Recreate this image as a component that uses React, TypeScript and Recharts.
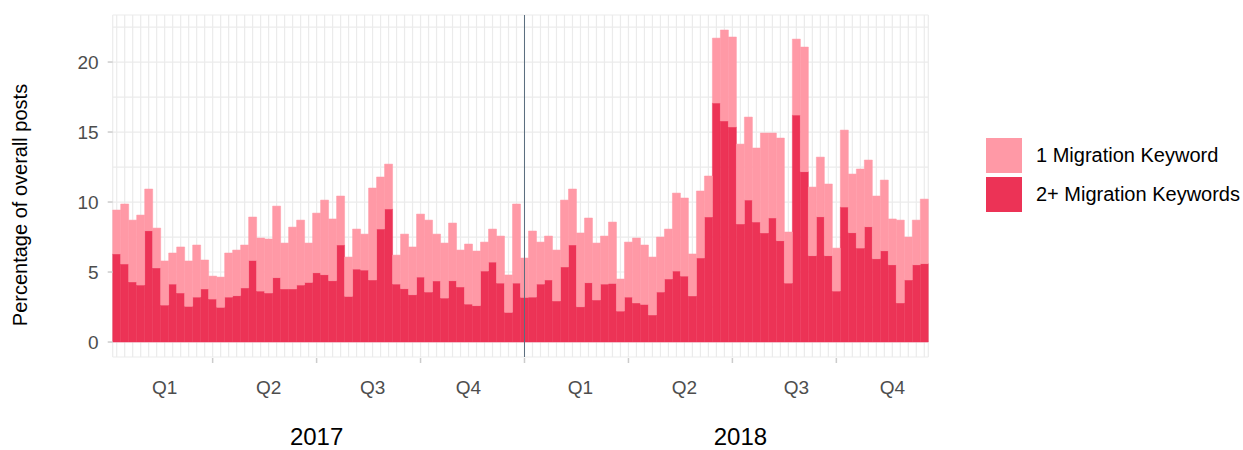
import React from 'react'
import { BarChart, Bar, XAxis, YAxis, CartesianGrid, ReferenceLine } from 'recharts'

// week start dates (one bar per week)
const weekStarts = [
  '2017-01-05', '2017-01-12', '2017-01-19', '2017-01-26', '2017-02-02', '2017-02-09', '2017-02-16', '2017-02-23',
  '2017-03-02', '2017-03-09', '2017-03-16', '2017-03-23', '2017-03-30', '2017-04-06', '2017-04-13', '2017-04-20',
  '2017-04-27', '2017-05-04', '2017-05-11', '2017-05-18', '2017-05-25', '2017-06-01', '2017-06-08', '2017-06-15',
  '2017-06-22', '2017-06-29', '2017-07-06', '2017-07-13', '2017-07-20', '2017-07-27', '2017-08-03', '2017-08-10',
  '2017-08-17', '2017-08-24', '2017-08-31', '2017-09-07', '2017-09-14', '2017-09-21', '2017-09-28', '2017-10-05',
  '2017-10-12', '2017-10-19', '2017-10-26', '2017-11-02', '2017-11-09', '2017-11-16', '2017-11-23', '2017-11-30',
  '2017-12-07', '2017-12-14', '2017-12-21', '2017-12-28',
  '2018-01-04', '2018-01-11', '2018-01-18', '2018-01-25', '2018-02-01', '2018-02-08', '2018-02-15', '2018-02-22',
  '2018-03-01', '2018-03-08', '2018-03-15', '2018-03-22', '2018-03-29', '2018-04-05', '2018-04-12', '2018-04-19',
  '2018-04-26', '2018-05-03', '2018-05-10', '2018-05-17', '2018-05-24', '2018-05-31', '2018-06-07', '2018-06-14',
  '2018-06-21', '2018-06-28', '2018-07-05', '2018-07-12', '2018-07-19', '2018-07-26', '2018-08-02', '2018-08-09',
  '2018-08-16', '2018-08-23', '2018-08-30', '2018-09-06', '2018-09-13', '2018-09-20', '2018-09-27', '2018-10-04',
  '2018-10-11', '2018-10-18', '2018-10-25', '2018-11-01', '2018-11-08', '2018-11-15', '2018-11-22', '2018-11-29',
  '2018-12-06', '2018-12-13',
]

// % of posts with 2+ migration keywords
const twoPlusKeywords = [
  6.29, 5.57, 4.29, 4.07, 7.95, 5.29, 2.64, 4.14, 3.5, 2.55, 3.21, 3.79, 3.07, 2.48, 3.21, 3.31,
  3.86, 5.83, 3.64, 3.5, 4.6, 3.79, 3.79, 4.07, 4.26, 4.95, 4.81, 4.38, 6.93, 3.26, 5.21, 5.14,
  4.43, 8.07, 9.5, 4.14, 3.81, 3.38, 4.64, 3.57, 4.36, 3.14, 4.38, 3.93, 2.71, 2.6, 5.07, 5.71,
  4.21, 2.12, 4.21, 3.19,
  3.21, 4.14, 4.43, 2.93, 5.36, 6.93, 2.52, 4.24, 3.0, 4.14, 4.19, 2.21, 3.21, 2.79, 2.69, 1.93,
  3.57, 4.5, 5.07, 4.71, 3.29, 6.0, 8.93, 17.07, 15.79, 15.36, 8.43, 10.14, 8.57, 7.79, 8.86, 7.24,
  4.21, 16.21, 12.17, 6.17, 8.95, 6.17, 3.64, 9.64, 7.81, 6.71, 8.24, 5.95, 6.52, 5.52, 2.79, 4.43,
  5.52, 5.6,
]

// % of posts with exactly 1 migration keyword
const oneKeyword = [
  3.14, 4.29, 4.42, 5.0, 2.98, 2.85, 3.15, 2.22, 3.29, 3.24, 3.72, 2.07, 1.64, 2.16, 3.15, 3.26,
  3.07, 3.1, 3.79, 3.86, 5.11, 3.28, 4.42, 4.64, 2.81, 4.26, 5.33, 4.41, 3.5, 2.81, 2.86, 2.57,
  6.57, 3.72, 3.21, 2.07, 3.9, 3.41, 4.5, 5.14, 3.35, 3.93, 4.12, 2.64, 4.29, 3.9, 2.07, 2.36,
  3.36, 2.67, 5.65, 2.81,
  4.72, 3.0, 3.14, 3.64, 4.78, 4.0, 5.27, 4.62, 4.07, 3.43, 4.38, 2.29, 3.93, 4.64, 4.24, 4.14,
  3.93, 3.57, 5.57, 5.58, 3.0, 4.79, 2.93, 4.64, 6.5, 6.43, 5.71, 5.93, 5.29, 7.14, 6.07, 7.33,
  3.65, 5.43, 8.9, 4.9, 4.26, 5.12, 3.07, 5.5, 4.19, 5.65, 4.76, 4.48, 5.05, 3.27, 5.92, 3.07,
  3.19, 4.61,
]

const quarterStartWeeks = ['2017-03-30', '2017-06-29', '2017-09-28', '2017-12-28', '2018-03-29', '2018-06-28', '2018-09-27']
const quarterLabelWeeks = ['2017-02-16', '2017-05-18', '2017-08-17', '2017-11-09', '2018-02-15', '2018-05-17', '2018-08-23', '2018-11-15']
const quarterNames = ['Q1', 'Q2', 'Q3', 'Q4', 'Q1', 'Q2', 'Q3', 'Q4']
const yearLabelWeeks = ['2017-06-29', '2018-07-05']
const yearNames = ['2017', '2018']
const yearBoundaryWeek = '2017-12-28'

const yTicks = [0, 5, 10, 15, 20]
const yGridTicks = [0, 2.5, 5, 7.5, 10, 12.5, 15, 17.5, 20, 22.5]

const LIGHT = '#FF99A6'
const DARK = '#EC3356'
const FONT = '"Liberation Sans", Arial, Helvetica, sans-serif'

const data = weekStarts.map((week, i) => ({
  week,
  twoPlus: twoPlusKeywords[i],
  one: oneKeyword[i],
}))

function WeekTick({ x, y, payload }: any) {
  const w = payload.value
  const qi = quarterLabelWeeks.indexOf(w)
  const yi = yearLabelWeeks.indexOf(w)
  return (
    <g>
      {quarterStartWeeks.includes(w) && (
        <line x1={x} x2={x} y1={y + 1} y2={y + 6} stroke="#CCCCCC" strokeWidth={1.5} />
      )}
      {qi >= 0 && (
        <text x={x} y={y + 37} textAnchor="middle" fill="#4D4D4D" fontSize={19}>
          {quarterNames[qi]}
        </text>
      )}
      {yi >= 0 && (
        <text x={x} y={y + 88} textAnchor="middle" fill="#000000" fontSize={24}>
          {yearNames[yi]}
        </text>
      )}
    </g>
  )
}

function YTitle({ viewBox }: any) {
  // title sits a little below the panel centre in the original
  const cy = viewBox.y + viewBox.height / 2 + 19
  return (
    <text x={27} y={cy} transform={`rotate(-90, 27, ${cy})`} textAnchor="middle" fontSize={20} fill="#000000">
      Percentage of overall posts
    </text>
  )
}

function KeyLegend() {
  const items = [
    { label: '1 Migration Keyword', color: LIGHT },
    { label: '2+ Migration Keywords', color: DARK },
  ]
  return (
    <div style={{ position: 'absolute', left: 986, top: 138, fontFamily: FONT, fontSize: 20, color: '#000' }}>
      {items.map((it) => (
        <div key={it.label} style={{ display: 'flex', alignItems: 'center', height: 35, marginBottom: 4 }}>
          <div style={{ width: 36, height: 35, background: it.color }} />
          <span style={{ marginLeft: 14, whiteSpace: 'nowrap' }}>{it.label}</span>
        </div>
      ))}
    </div>
  )
}

export default function App() {
  return (
    <div style={{ position: 'absolute', left: 0, top: 0, width: 1243, height: 450, background: '#fff' }}>
      <BarChart
        width={1243}
        height={450}
        data={data}
        margin={{ top: 15, right: 314.7, left: 0, bottom: 0 }}
        barCategoryGap={0}
        barGap={0}
        style={{ fontFamily: FONT }}
      >
        <CartesianGrid yAxisId="minor" stroke="#EBEBEB" strokeWidth={1.2} />
        <XAxis
          dataKey="week"
          interval={0}
          height={93}
          tickSize={0}
          tickMargin={0}
          axisLine={false}
          tickLine={false}
          tick={<WeekTick />}
        />
        <YAxis
          width={112.7}
          domain={[-1.07, 23.36]}
          allowDataOverflow
          ticks={yTicks}
          tickSize={5}
          tickMargin={9}
          axisLine={false}
          tickLine={{ stroke: '#CCCCCC', strokeWidth: 1.5 }}
          tick={{ fill: '#4D4D4D', fontSize: 19 }}
          label={{ content: <YTitle /> }}
        />
        <YAxis yAxisId="minor" hide domain={[-1.07, 23.36]} allowDataOverflow ticks={yGridTicks} />
        <ReferenceLine x={yearBoundaryWeek} stroke="#5B6E7F" strokeWidth={1} />
        <Bar dataKey="twoPlus" name="2+ Migration Keywords" stackId="a" fill={DARK} stroke={DARK} strokeWidth={0.5} isAnimationActive={false} />
        <Bar dataKey="one" name="1 Migration Keyword" stackId="a" fill={LIGHT} stroke={LIGHT} strokeWidth={0.5} isAnimationActive={false} />
      </BarChart>
      <KeyLegend />
    </div>
  )
}
